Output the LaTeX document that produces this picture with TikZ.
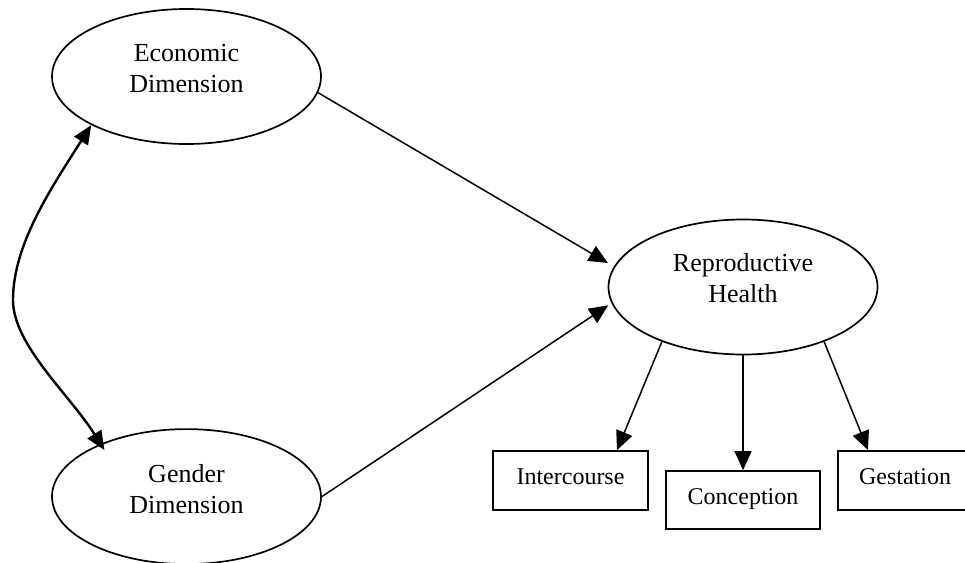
\documentclass[tikz,border=0pt]{standalone}
\usepackage{fontspec}
\setmainfont{Liberation Serif}
\usetikzlibrary{shapes.geometric,arrows.meta}
\begin{document}
\begin{tikzpicture}[x=1pt,y=-1pt,
  latent/.style={ellipse,draw,line width=1.7pt,minimum width=269pt,minimum height=135pt,inner sep=0pt},
  lbl/.style={align=center,inner sep=0pt,font=\fontsize{26}{31}\selectfont},
  obs/.style={rectangle,draw,line width=1.7pt,minimum width=155pt,minimum height=59pt,inner sep=0pt},
  olbl/.style={inner sep=0pt,anchor=base,font=\fontsize{24}{29}\selectfont},
  conn/.style={line width=1.5pt,-{Triangle[length=19pt,width=17pt]}},
  corr/.style={line width=2.4pt,{Triangle[length=19pt,width=16pt]}-{Triangle[length=19pt,width=16pt]}}]
\clip (0,0) rectangle (965,562);
% latent variables
\node[latent] (eco) at (186.5,76.5) {};
\node[lbl] (ecot) at (186.5,68.9) {Economic\\Dimension};
\node[latent] (gen) at (186.5,496.6) {};
\node[lbl] (gent) at (186.5,489) {Gender\\Dimension};
\node[latent] (rep) at (743,287) {};
\node[lbl] (rept) at (743,278.5) {Reproductive\\Health};
% observed
\node[obs] (int) at (570.5,480.5) {};
\node[olbl] (intt) at (570.5,484) {Intercourse};
\node[obs,minimum width=154pt,minimum height=58pt] (con) at (743,500) {};
\node[olbl] (cont) at (743,504) {Conception};
\node[obs] (ges) at (915.5,480.5) {};
\node[olbl] (gest) at (905,484) {Gestation};
% paths
\draw[conn,shorten >=7pt] (eco.-7) -- (rep.171);
\draw[conn,shorten >=4pt] (gen.0) -- (rep.-173);
\draw[corr] (eco.-153) .. controls (50,190) and (13,245) .. (13,300)
  .. controls (13,345) and (70,395) .. ([xshift=7pt,yshift=-5pt]gen.150);
\draw[conn] (rep.-146) -- ([xshift=46.5pt]int.north);
\draw[conn] (rep.south) -- (con.north);
\draw[conn] (rep.-34) -- ([xshift=-47.5pt]ges.north);
\end{tikzpicture}
\end{document}
